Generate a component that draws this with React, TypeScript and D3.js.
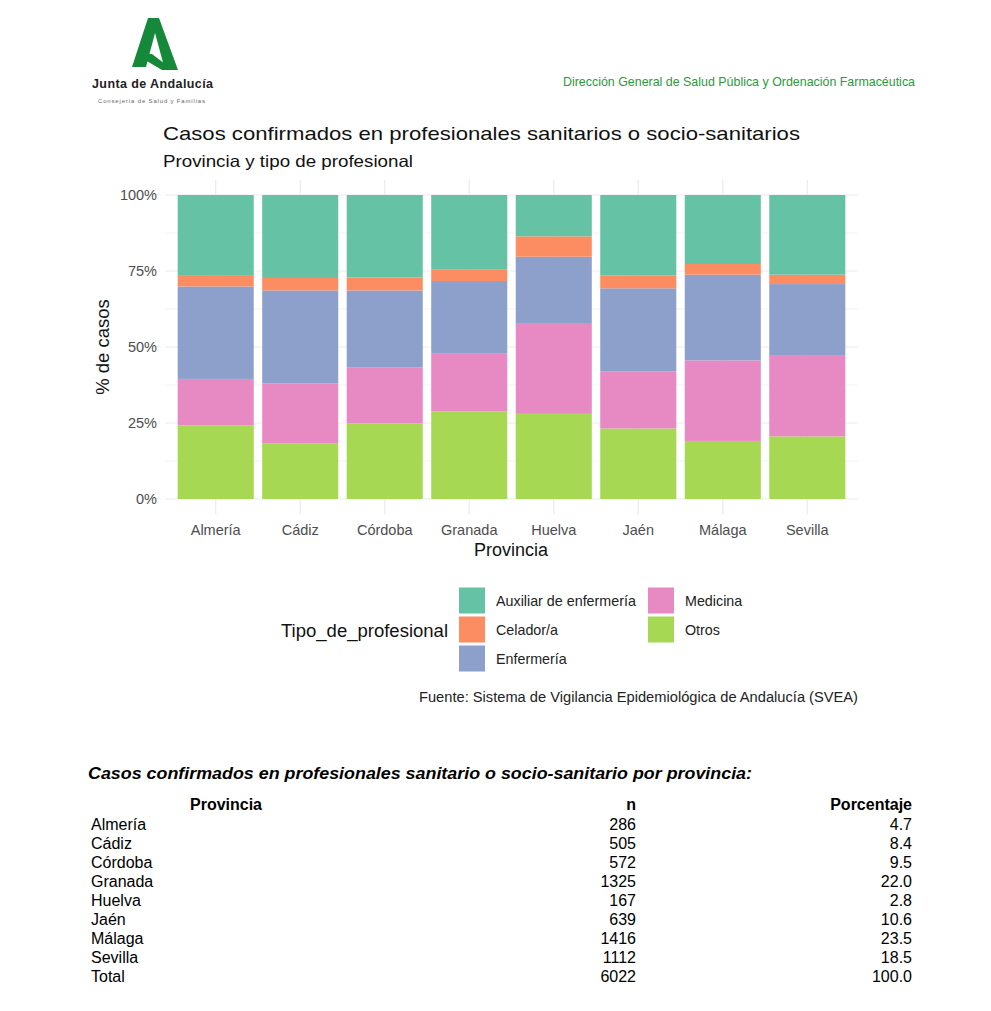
import * as d3 from "d3";
import React from "react";

const provincias = ["Almería", "Cádiz", "Córdoba", "Granada", "Huelva", "Jaén", "Málaga", "Sevilla"];

// % of cases per type of professional
const auxiliar = [26.6, 27.3, 27.1, 24.6, 13.6, 26.4, 22.7, 26.2];
const celador = [3.5, 4.1, 4.3, 3.7, 6.7, 4.3, 3.5, 3.1];
const enfermeria = [30.4, 30.6, 25.4, 23.7, 21.8, 27.4, 28.2, 23.6];
const medicina = [15.3, 19.8, 18.3, 19.2, 29.9, 18.7, 26.5, 26.5];
const otros = [24.2, 18.2, 24.9, 28.8, 28.0, 23.2, 19.1, 20.6];

const yTicks = [0, 0.25, 0.5, 0.75, 1];
const yMinor = [0.125, 0.375, 0.625, 0.875];

const legendItems = [
  { key: "Auxiliar de enfermería", color: "#66c2a5" },
  { key: "Celador/a", color: "#fc8d62" },
  { key: "Enfermería", color: "#8da0cb" },
  { key: "Medicina", color: "#e78ac3" },
  { key: "Otros", color: "#a6d854" },
];

// table below the chart
const tablaProvincias = [...provincias, "Total"];
const tablaN = [286, 505, 572, 1325, 167, 639, 1416, 1112, 6022];
const tablaPct = ["4.7", "8.4", "9.5", "22.0", "2.8", "10.6", "23.5", "18.5", "100.0"];

const sans = "'Liberation Sans', Arial, Helvetica, sans-serif";
const green = "#16883a";

const App = () => {
  const rows = provincias.map((p, i) => ({
    provincia: p,
    "Otros": otros[i] / 100,
    "Medicina": medicina[i] / 100,
    "Enfermería": enfermeria[i] / 100,
    "Celador/a": celador[i] / 100,
    "Auxiliar de enfermería": auxiliar[i] / 100,
  }));
  const stackKeys = ["Otros", "Medicina", "Enfermería", "Celador/a", "Auxiliar de enfermería"];
  const series = d3.stack<any>().keys(stackKeys)(rows);
  const color = d3
    .scaleOrdinal<string>()
    .domain(legendItems.map((d) => d.key))
    .range(legendItems.map((d) => d.color));

  const x = d3.scaleBand().domain(provincias).range([165, 858]).paddingInner(0.1).paddingOuter(0.15);
  const y = d3.scaleLinear().domain([0, 1]).range([499, 195]);
  const pct = d3.format(".0%");

  const panelTop = y(1.05);
  const panelBottom = y(-0.05);

  const tableY = d3.scaleLinear().domain([0, 1]).range([824, 843]);

  return (
    <svg width={991} height={1011} style={{ position: "absolute", left: 0, top: 0, background: "#fff" }}>
      {/* header: logo */}
      <g fill={green}>
        <path d="M148,18 L159,18 L146,67 L132,67 Z" />
        <path d="M151,18 L159,18 L178,70 L165,70 Z" />
        <path d="M145,54 L152,54 L173,70 L162,70 L145,60 Z" />
      </g>
      <text x={92} y={88} fontFamily={sans} fontWeight="bold" fontSize={12.5} fill="#222" textLength={121}>
        Junta de Andalucía
      </text>
      <text x={98} y={103} fontFamily={sans} fontSize={6} fill="#666" textLength={107}>
        Consejería de Salud y Familias
      </text>
      <text x={563} y={86} fontFamily={sans} fontSize={13.5} fill="#2a9a3a" textLength={352} lengthAdjust="spacingAndGlyphs">
        Dirección  General de Salud Pública y Ordenación Farmacéutica
      </text>

      {/* titles */}
      <text x={163} y={140} fontFamily={sans} fontSize={19} fill="#111" textLength={637} lengthAdjust="spacingAndGlyphs">
        Casos confirmados en profesionales sanitarios o socio-sanitarios
      </text>
      <text x={163} y={167} fontFamily={sans} fontSize={16.5} fill="#111" textLength={250} lengthAdjust="spacingAndGlyphs">
        Provincia y tipo de profesional
      </text>

      {/* grid */}
      <g stroke="#ebebeb">
        {yMinor.map((t) => (
          <line key={t} x1={165} x2={858} y1={y(t)} y2={y(t)} strokeWidth={0.6} />
        ))}
        {yTicks.map((t) => (
          <line key={t} x1={165} x2={858} y1={y(t)} y2={y(t)} strokeWidth={1.2} />
        ))}
        {provincias.map((p) => (
          <line key={p} x1={x(p)! + x.bandwidth() / 2} x2={x(p)! + x.bandwidth() / 2} y1={panelTop} y2={panelBottom} strokeWidth={1.2} />
        ))}
      </g>

      {/* bars */}
      {series.map((s) => (
        <g key={s.key} fill={color(s.key)}>
          {s.map((d, i) => (
            <rect key={i} x={x(d.data.provincia)} width={x.bandwidth()} y={y(d[1])} height={y(d[0]) - y(d[1])} />
          ))}
        </g>
      ))}

      {/* axes */}
      <g fontFamily={sans} fontSize={14.5} fill="#4d4d4d">
        {yTicks.map((t) => (
          <text key={t} x={157} y={y(t)} dy="0.35em" textAnchor="end">
            {pct(t)}
          </text>
        ))}
        {provincias.map((p) => (
          <text key={p} x={x(p)! + x.bandwidth() / 2} y={535} textAnchor="middle">
            {p}
          </text>
        ))}
      </g>
      <text x={511} y={556} textAnchor="middle" fontFamily={sans} fontSize={18} fill="#111">
        Provincia
      </text>
      <text transform={`translate(109,${y(0.5)}) rotate(-90)`} textAnchor="middle" fontFamily={sans} fontSize={18.5} fill="#111">
        % de casos
      </text>

      {/* legend */}
      <text x={281} y={631} dy="0.35em" fontFamily={sans} fontSize={17.5} fill="#111" textLength={167} lengthAdjust="spacingAndGlyphs">
        Tipo_de_profesional
      </text>
      {legendItems.map((d, i) => {
        const col = i < 3 ? 0 : 1;
        const row = i < 3 ? i : i - 3;
        const kx = col === 0 ? 459 : 648;
        const ky = 587.5 + row * 29;
        return (
          <g key={d.key}>
            <rect x={kx} y={ky} width={26} height={26} fill={d.color} />
            <text x={kx + 37} y={ky + 13} dy="0.35em" fontFamily={sans} fontSize={14.3} fill="#222">
              {d.key}
            </text>
          </g>
        );
      })}
      <text x={858} y={702} textAnchor="end" fontFamily={sans} fontSize={14} fill="#222" textLength={439} lengthAdjust="spacingAndGlyphs">
        Fuente: Sistema de Vigilancia Epidemiológica de Andalucía (SVEA)
      </text>

      {/* table */}
      <text x={88} y={779} fontFamily={sans} fontWeight="bold" fontStyle="italic" fontSize={16.5} fill="#000" textLength={664} lengthAdjust="spacingAndGlyphs">
        Casos confirmados en profesionales sanitario o socio-sanitario por provincia:
      </text>
      <g fontFamily={sans} fontSize={16} fill="#000">
        <text x={226} y={810} textAnchor="middle" fontWeight="bold">Provincia</text>
        <text x={636} y={810} textAnchor="end" fontWeight="bold">n</text>
        <text x={912} y={810} textAnchor="end" fontWeight="bold">Porcentaje</text>
        {tablaProvincias.map((p, i) => (
          <g key={p}>
            <text x={91} y={tableY(i) + 6}>{p}</text>
            <text x={636} y={tableY(i) + 6} textAnchor="end">{tablaN[i]}</text>
            <text x={912} y={tableY(i) + 6} textAnchor="end">{tablaPct[i]}</text>
          </g>
        ))}
      </g>
    </svg>
  );
};

export default App;
